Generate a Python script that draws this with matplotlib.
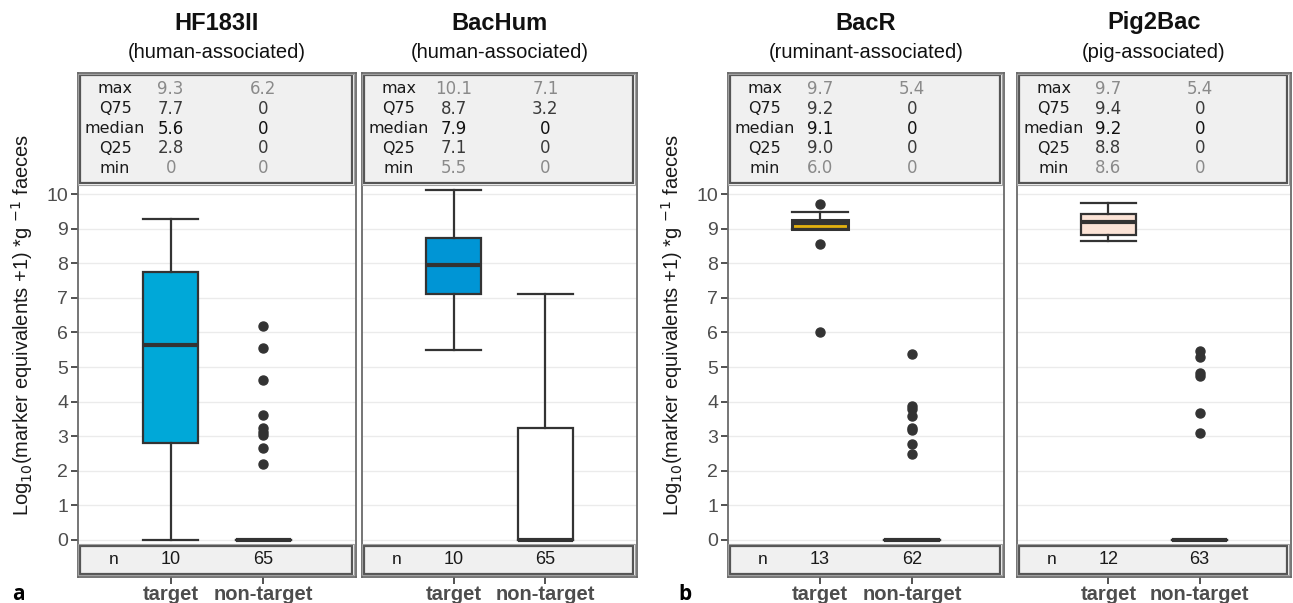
import numpy as np
import matplotlib.pyplot as plt
from matplotlib.patches import Rectangle

plt.rcParams['font.family'] = ['Liberation Sans', 'DejaVu Sans']

markers = ['HF183II', 'BacHum', 'BacR', 'Pig2Bac']
hosts = ['(human-associated)', '(human-associated)', '(ruminant-associated)', '(pig-associated)']
groups = ['target', 'non-target']
box_colors = ['#00A8D8', '#0095D5', '#E3B10E', '#FBE3D6']

# whislo, q1, med, q3, whishi 
target_stats = [
    [0.0, 2.79, 5.64, 7.75, 9.27],
    [5.49, 7.11, 7.95, 8.72, 10.13],
    [8.98, 8.98, 9.17, 9.24, 9.48],
    [8.64, 8.83, 9.19, 9.41, 9.75],
]
nontarget_stats = [
    [0, 0, 0, 0, 0],
    [0, 0, 0, 3.23, 7.1],
    [0, 0, 0, 0, 0],
    [0, 0, 0, 0, 0],
]
target_outliers = [[], [], [9.7, 8.55, 6.0], []]
nontarget_outliers = [
    [6.18, 5.56, 4.62, 3.61, 3.23, 3.13, 3.03, 2.67, 2.19],
    [],
    [5.37, 3.87, 3.78, 3.59, 3.23, 3.18, 2.78, 2.49],
    [5.47, 5.30, 4.82, 4.74, 3.68, 3.08],
]

row_names = ['max', 'Q75', 'median', 'Q25', 'min']
target_table = [['9.3', '7.7', '5.6', '2.8', '0'],
                ['10.1', '8.7', '7.9', '7.1', '5.5'],
                ['9.7', '9.2', '9.1', '9.0', '6.0'],
                ['9.7', '9.4', '9.2', '8.8', '8.6']]
nontarget_table = [['6.2', '0', '0', '0', '0'],
                   ['7.1', '3.2', '0', '0', '0'],
                   ['5.4', '0', '0', '0', '0'],
                   ['5.4', '0', '0', '0', '0']]
n_target = [10, 10, 13, 12]
n_nontarget = [65, 65, 62, 63]

row_colors = ['#8a8a8a', '#3a3a3a', '#111111', '#3a3a3a', '#8a8a8a']

W, H = 1293, 603
fig = plt.figure(figsize=(W / 100, H / 100), dpi=100)

# panel frames in pixels: left, right
panel_px = [(78, 356), (362, 637), (728, 1004), (1017, 1291)]
top_px, bot_px = 73, 577


def stat_dict(s, fl):
    return dict(whislo=s[0], q1=s[1], med=s[2], q3=s[3], whishi=s[4], fliers=fl)


for i in range(4):
    l, r = panel_px[i]
    ax = fig.add_axes([l / W, (H - bot_px) / H, (r - l) / W, (bot_px - top_px) / H])
    ax.set_xlim(0, 3)
    ax.set_ylim(-1.07, 13.5)
    for y in range(11):
        ax.axhline(y, color='#ebebeb', lw=1.0, zorder=0)

    stats = [stat_dict(target_stats[i], target_outliers[i]),
             stat_dict(nontarget_stats[i], nontarget_outliers[i])]
    bp = ax.bxp(stats, positions=[1, 2], widths=0.6, capwidths=0.6,
                patch_artist=True, showfliers=True,
                boxprops=dict(edgecolor='#333333', lw=1.6),
                whiskerprops=dict(color='#333333', lw=1.6),
                capprops=dict(color='#333333', lw=1.6),
                medianprops=dict(color='#333333', lw=3.0),
                flierprops=dict(marker='o', markerfacecolor='#333333',
                                markeredgecolor='#333333', markersize=6.5))
    bp['boxes'][0].set_facecolor(box_colors[i])
    bp['boxes'][1].set_facecolor('white')
    if i == 2:
        bp['boxes'][0].set_linewidth(2.2)

    # summary table on top
    ax.add_patch(Rectangle((0.02, 10.32), 2.94, 3.12, facecolor='#f0f0f0',
                           edgecolor='#555555', lw=1.6, zorder=3))
    ax.add_patch(Rectangle((0.0, 10.27), 2.98, 3.2, facecolor='none',
                           edgecolor='#a0a0a0', lw=0.8, zorder=3))
    ys = np.linspace(13.05, 10.74, 5)
    for k in range(5):
        ax.text(0.4, ys[k], row_names[k], ha='center', va='center', fontsize=11.5,
                color='#1a1a1a', family='DejaVu Sans', zorder=4)
        ax.text(1, ys[k], target_table[i][k], ha='center', va='center', fontsize=12,
                color=row_colors[k], family='DejaVu Sans', zorder=4)
        ax.text(2, ys[k], nontarget_table[i][k], ha='center', va='center', fontsize=12,
                color=row_colors[k], family='DejaVu Sans', zorder=4)

    # n bar at bottom
    ax.add_patch(Rectangle((0.02, -0.97), 2.94, 0.8, facecolor='#f0f0f0',
                           edgecolor='#555555', lw=1.6, zorder=3))
    ax.add_patch(Rectangle((0.0, -1.02), 2.98, 0.9, facecolor='none',
                           edgecolor='#a0a0a0', lw=0.8, zorder=3))
    ax.text(0.38, -0.57, 'n', ha='center', va='center', fontsize=12.5, color='#1a1a1a', zorder=4)
    ax.text(1, -0.57, str(n_target[i]), ha='center', va='center', fontsize=13, color='#1a1a1a', zorder=4)
    ax.text(2, -0.57, str(n_nontarget[i]), ha='center', va='center', fontsize=13, color='#1a1a1a', zorder=4)

    for sp in ax.spines.values():
        sp.set_color('#6a6a6a')
        sp.set_linewidth(1.3)

    ax.set_xticks([1, 2])
    ax.set_xticklabels(groups, fontsize=14.5, fontweight='bold', color='#4d4d4d')
    ax.tick_params(axis='x', length=5, width=1.2, color='#333333', pad=0.5)
    ax.set_yticks(range(11))
    if i in (0, 2):
        ax.set_yticklabels([str(v) for v in range(11)], fontsize=14, color='#4d4d4d')
        ax.tick_params(axis='y', length=5, width=1.2, color='#333333', pad=2)
        ax.set_ylabel(r'Log$_{10}$(marker equivalents +1) *g $^{-1}$ faeces',
                      fontsize=14.5, color='#1a1a1a')
        ax.yaxis.set_label_coords(-0.155, 0.5)
    else:
        ax.set_yticklabels([])
        ax.tick_params(axis='y', length=0)

    cx = (l + r) / 2 / W
    fig.text(cx, 1 - 23 / H, markers[i], ha='center', va='center',
             fontsize=17, fontweight='bold', color='#111111')
    fig.text(cx, 1 - 53 / H, hosts[i], ha='center', va='center',
             fontsize=14.5, color='#111111')

fig.text(12 / W, 1 - 594 / H, 'a', fontsize=15, fontweight='bold', va='center',
         family='Open Sans')
fig.text(678 / W, 1 - 594 / H, 'b', fontsize=15, fontweight='bold', va='center',
         family='Open Sans')

fig.savefig('out.png', dpi=100)
